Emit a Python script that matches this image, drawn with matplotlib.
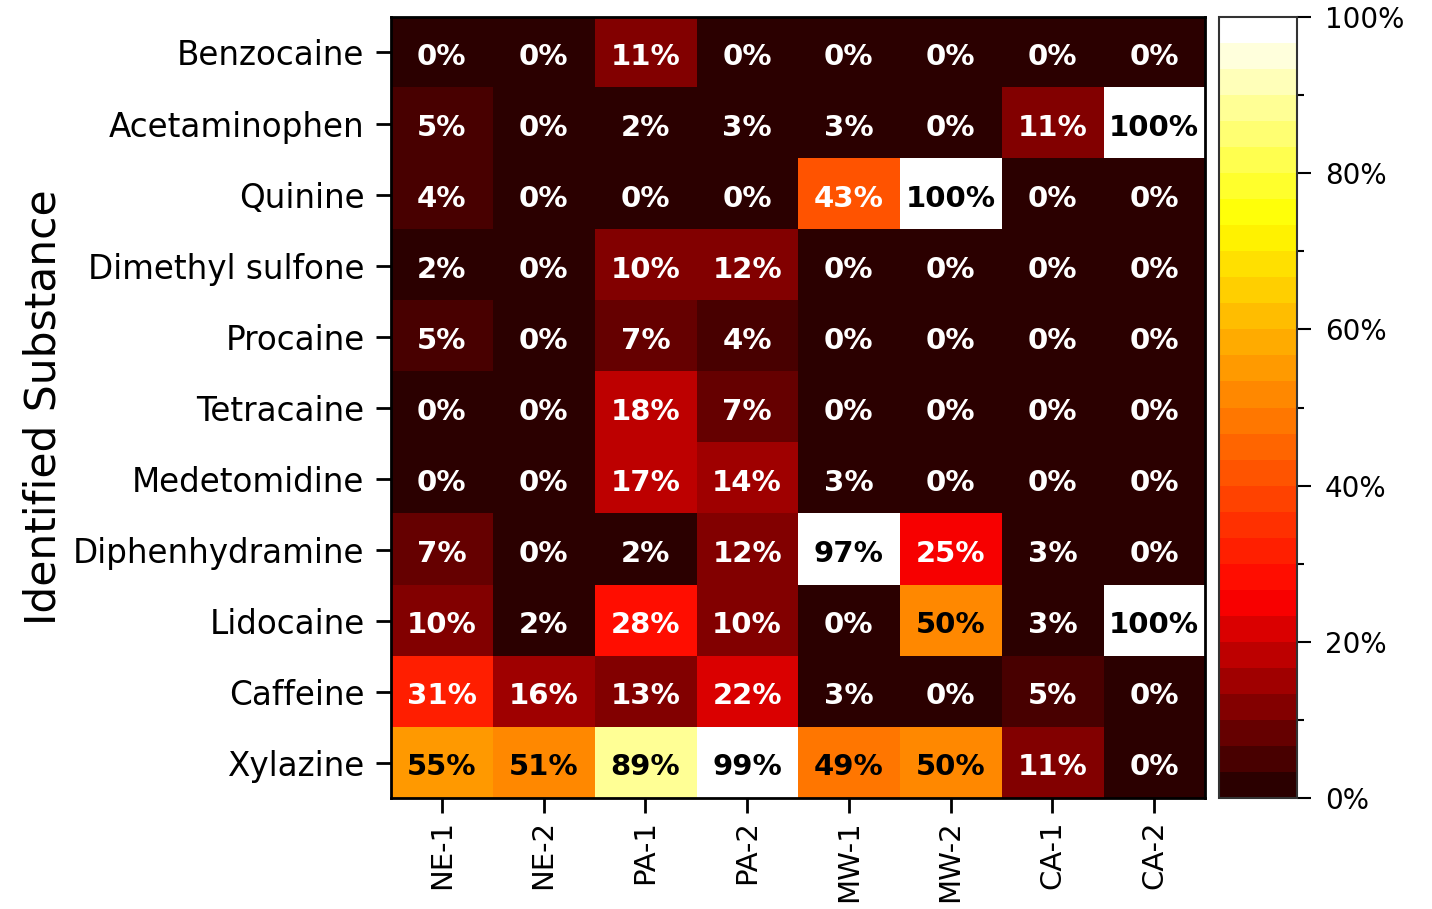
import numpy as np
import matplotlib
matplotlib.use("Agg")
import matplotlib.pyplot as plt
from matplotlib.colors import LinearSegmentedColormap, BoundaryNorm

# substances (top to bottom) and sites
substances = ["Benzocaine", "Acetaminophen", "Quinine", "Dimethyl sulfone",
              "Procaine", "Tetracaine", "Medetomidine", "Diphenhydramine",
              "Lidocaine", "Caffeine", "Xylazine"]
sites = ["NE-1", "NE-2", "PA-1", "PA-2", "MW-1", "MW-2", "CA-1", "CA-2"]

# percent of samples with the substance identified
benzocaine = [0, 0, 11, 0, 0, 0, 0, 0]
acetaminophen = [5, 0, 2, 3, 3, 0, 11, 100]
quinine = [4, 0, 0, 0, 43, 100, 0, 0]
dimethyl_sulfone = [2, 0, 10, 12, 0, 0, 0, 0]
procaine = [5, 0, 7, 4, 0, 0, 0, 0]
tetracaine = [0, 0, 18, 7, 0, 0, 0, 0]
medetomidine = [0, 0, 17, 14, 3, 0, 0, 0]
diphenhydramine = [7, 0, 2, 12, 97, 25, 3, 0]
lidocaine = [10, 2, 28, 10, 0, 50, 3, 100]
caffeine = [31, 16, 13, 22, 3, 0, 5, 0]
xylazine = [55, 51, 89, 99, 49, 50, 11, 0]

data = np.array([benzocaine, acetaminophen, quinine, dimethyl_sulfone,
                 procaine, tetracaine, medetomidine, diphenhydramine,
                 lidocaine, caffeine, xylazine], dtype=float)

plt.rcParams["font.family"] = ["DejaVu Sans"]

# dark red -> red -> yellow -> white, cut into 30 steps
n_levels = 30
cmap = LinearSegmentedColormap.from_list(
    "heat", [(0, "#2b0000"), (0.25, "#ff0000"), (0.75, "#ffff00"), (1, "#ffffff")],
    N=n_levels)
norm = BoundaryNorm(np.linspace(0, 100, n_levels + 1), cmap.N)

fig = plt.figure(figsize=(14.32, 9.09), dpi=100)
ax = fig.add_axes([0.273, 0.1221, 0.5685, 0.8592])
cax = fig.add_axes([0.8513, 0.1221, 0.0544, 0.8592])

im = ax.imshow(data, cmap=cmap, norm=norm, aspect="auto", interpolation="nearest")

for i in range(data.shape[0]):
    for j in range(data.shape[1]):
        v = data[i, j]
        ax.text(j, i + 0.06, f"{v:.0f}%", ha="center", va="center",
                color="black" if v >= 45 else "white",
                fontsize=21, fontweight="bold")

ax.set_xticks(np.arange(len(sites)))
ax.set_xticklabels(sites, rotation=90, fontsize=21)
ax.set_yticks(np.arange(len(substances)))
ax.set_yticklabels(substances, fontsize=23.5)
ax.tick_params(axis="both", length=11, width=2)
ax.tick_params(axis="y", pad=8)
ax.tick_params(axis="x", pad=5)
ax.set_ylabel("Identified Substance", fontsize=30.5, labelpad=6)
for s in ax.spines.values():
    s.set_linewidth(2)

cb = fig.colorbar(im, cax=cax)
cb.set_ticks([0, 20, 40, 60, 80, 100])
cb.set_ticklabels(["0%", "20%", "40%", "60%", "80%", "100%"])
cb.ax.set_yticks([10, 30, 50, 70, 90], minor=True)
cb.ax.tick_params(which="major", length=10, width=1.5, labelsize=20, pad=10)
cb.ax.tick_params(which="minor", length=5, width=1.5)
cb.outline.set_linewidth(1.5)
cb.outline.set_edgecolor("#333333")

fig.savefig("out.png", dpi=100)
